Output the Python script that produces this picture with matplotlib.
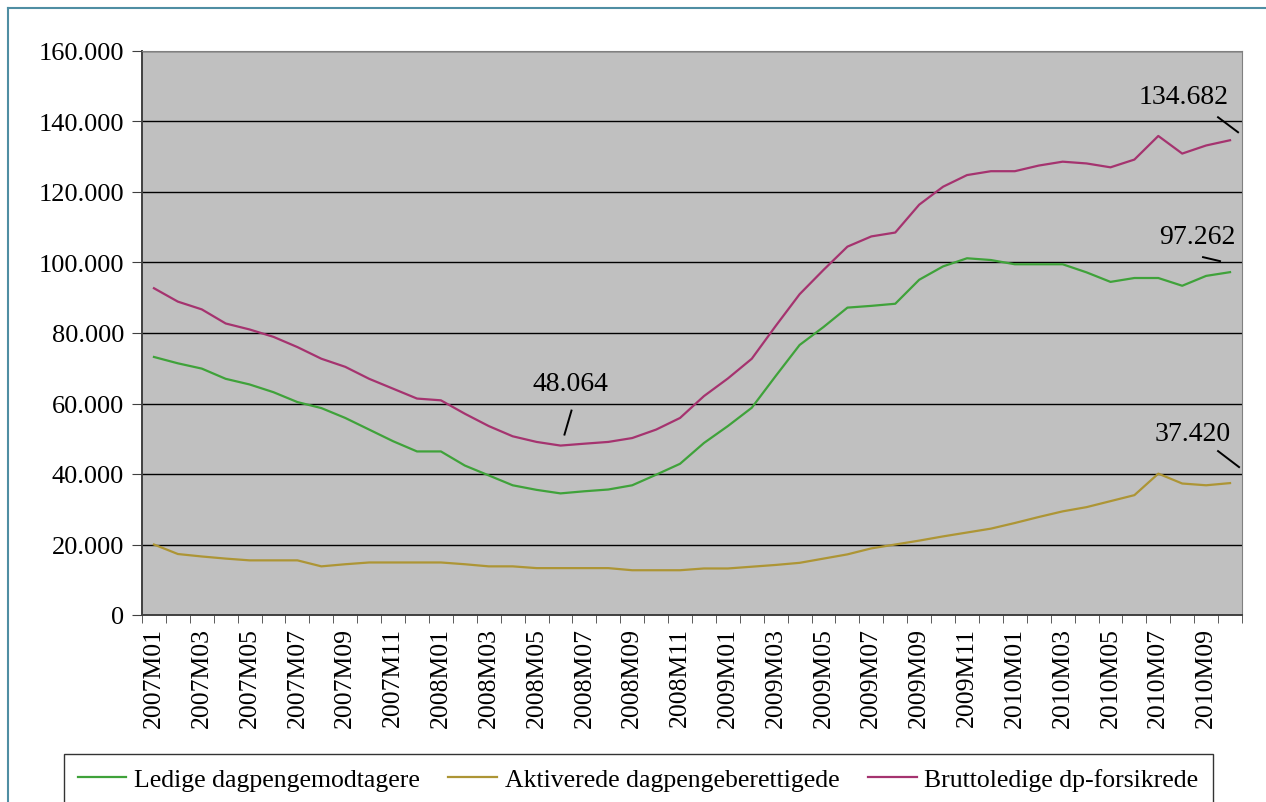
import matplotlib
matplotlib.use("Agg")
import matplotlib.pyplot as plt
from matplotlib.ticker import FuncFormatter, MultipleLocator
from matplotlib.lines import Line2D
from matplotlib.transforms import IdentityTransform

plt.rcParams['font.family'] = ['Liberation Serif', 'DejaVu Serif']

# --- data (monthly 2007M01 - 2010M10) ---
months = [f"{y}M{m:02d}" for y in range(2007, 2011) for m in range(1, 13)][:46]

ledige = [73.2, 71.4, 69.9, 67.0, 65.4, 63.2, 60.4, 58.7, 55.9, 52.6,
          49.3, 46.4, 46.4, 42.4, 39.6, 36.8, 35.5, 34.5, 35.1, 35.6,
          36.8, 39.8, 42.9, 48.8, 53.6, 58.8, 67.8, 76.6, 81.7, 87.2,
          87.7, 88.3, 95.1, 98.9, 101.2, 100.7, 99.5, 99.5, 99.5, 97.2,
          94.5, 95.6, 95.6, 93.4, 96.2, 97.262]

aktiverede = [20.0, 17.3, 16.6, 16.0, 15.5, 15.5, 15.5, 13.8, 14.4, 14.9,
              14.9, 14.9, 14.9, 14.4, 13.8, 13.8, 13.3, 13.3, 13.3, 13.3,
              12.7, 12.7, 12.7, 13.2, 13.2, 13.7, 14.2, 14.8, 16.0, 17.2,
              18.9, 20.0, 21.1, 22.3, 23.4, 24.5, 26.1, 27.8, 29.4, 30.6,
              32.3, 34.0, 40.1, 37.3, 36.8, 37.420]

brutto = [92.7, 88.9, 86.7, 82.7, 81.0, 78.9, 76.0, 72.7, 70.4, 67.0,
          64.2, 61.4, 60.9, 57.1, 53.6, 50.7, 49.1, 48.064, 48.6, 49.1,
          50.2, 52.6, 55.9, 62.1, 67.1, 72.7, 82.0, 91.0, 97.9, 104.5,
          107.4, 108.5, 116.4, 121.5, 124.8, 125.9, 125.9, 127.5, 128.6, 128.1,
          127.0, 129.2, 135.9, 130.9, 133.2, 134.682]

ledige = [v * 1000 for v in ledige]
aktiverede = [v * 1000 for v in aktiverede]
brutto = [v * 1000 for v in brutto]

names = ["Ledige dagpengemodtagere", "Aktiverede dagpengeberettigede",
         "Bruttoledige dp-forsikrede"]
colors = ["#3fa23a", "#ad9535", "#a5336f"]

# --- figure ---
fig = plt.figure(figsize=(12.66, 8.03), dpi=100)
ax = fig.add_axes([142 / 1266, 1 - 616 / 803, 1100 / 1266, 564 / 803])
ax.set_facecolor("#c0c0c0")

x = list(range(len(months)))
for vals, c in zip([ledige, aktiverede, brutto], colors):
    ax.plot(x, vals, color=c, lw=1.6, zorder=3)

ax.set_xlim(-0.5, len(months) - 0.5)
ax.set_ylim(0, 160000)
ax.yaxis.set_major_locator(MultipleLocator(20000))
ax.yaxis.set_major_formatter(FuncFormatter(lambda v, p: f"{int(v):,}".replace(",", ".")))
ax.grid(axis="y", color="black", lw=1, zorder=1)

# category labels every second month, tick marks between categories
ax.set_xticks(x[::2])
ax.set_xticklabels(months[::2], rotation=90)
ax.set_xticks([i - 0.5 for i in range(len(months) + 1)], minor=True)
ax.tick_params(axis="x", which="major", length=0, pad=9, labelsize=18.5)
ax.tick_params(axis="x", which="minor", length=6, direction="out", color="#404040")
ax.tick_params(axis="y", length=7, direction="out", color="#404040", labelsize=19, pad=6)

for s in ["top", "right"]:
    ax.spines[s].set_color("#808080")
for s in ["left", "bottom"]:
    ax.spines[s].set_color("#404040")
    ax.spines[s].set_linewidth(1.4)

# data labels with short leader lines (offsets in pixels from the point)
labels = [
    (17, brutto[17], "48.064", (10, 62), (4, 11), (11, 35)),
    (45, brutto[45], "134.682", (-46, 44), (-12, 23), (8, 8)),
    (45, ledige[45], "97.262", (-33, 36), (-27, 15), (-10, 11)),
    (45, aktiverede[45], "37.420", (-37, 50), (-12, 32), (9, 16)),
]
for i, v, txt, toff, l1, l2 in labels:
    ax.annotate(txt, (i, v), xytext=toff, textcoords="offset pixels",
                ha="center", va="center", fontsize=20, zorder=5)
    px, py = ax.transData.transform((i, v))
    fig.add_artist(Line2D([px + l1[0], px + l2[0]], [py + l1[1], py + l2[1]],
                          color="black", lw=1.4, transform=IdentityTransform()))

# legend
handles = [Line2D([], [], color=c, lw=1.6) for c in colors]
leg = fig.legend(handles, names, loc="upper center", ncol=3,
                 bbox_to_anchor=(638 / 1266, 1 - 755 / 803),
                 fontsize=18.5, frameon=True, fancybox=False,
                 edgecolor="black", handlelength=1.9, handletextpad=0.3,
                 columnspacing=1.1, borderpad=0.55, borderaxespad=0)
leg.get_frame().set_linewidth(1.0)

# outer frame lines (top and left)
fig.add_artist(Line2D([8 / 1266, 1], [1 - 9 / 803] * 2, color="#4f8ea3", lw=1.5))
fig.add_artist(Line2D([8 / 1266] * 2, [0, 1 - 9 / 803], color="#4f8ea3", lw=1.5))

fig.savefig("out.png", dpi=100)
